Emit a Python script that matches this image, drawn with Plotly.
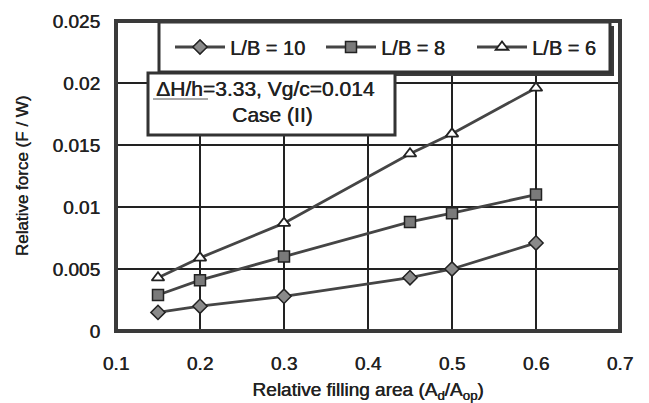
import plotly.graph_objects as go

# Relative filling area (A_d / A_op)
filling_area = [0.15, 0.2, 0.3, 0.45, 0.5, 0.6]

# Relative force F/W for each length/breadth ratio
force_lb10 = [0.0015, 0.0020, 0.0028, 0.0043, 0.0050, 0.0071]
force_lb8 = [0.0029, 0.0041, 0.0060, 0.0088, 0.0095, 0.0110]
force_lb6 = [0.0043, 0.0059, 0.0087, 0.0143, 0.0159, 0.0196]

series_names = ["L/B = 10", "L/B = 8", "L/B = 6"]

x_ticks = [0.1, 0.2, 0.3, 0.4, 0.5, 0.6, 0.7]
x_tick_text = ["0.1", "0.2", "0.3", "0.4", "0.5", "0.6", "0.7"]
y_ticks = [0, 0.005, 0.01, 0.015, 0.02, 0.025]
y_tick_text = ["0", "0.005", "0.01", "0.015", "0.02", "0.025"]

W, H = 649, 403
ML, MR, MT, MB = 116, 29, 21, 72
PW, PH = W - ML - MR, H - MT - MB

INK = "#222222"
LINE = "#454545"
FONT = "Liberation Sans, Arial, sans-serif"
HEAVY = "0.5px 0 0 #222222"  # slightly heavier strokes for printed-looking text


def px(x):
    return (x - ML) / PW


def py(y):
    return (H - MB - y) / PH


def font(size):
    return dict(family=FONT, size=size, color=INK, shadow=HEAVY)


fig = go.Figure()

fig.add_trace(go.Scatter(
    x=filling_area, y=force_lb10, name=series_names[0], mode="lines+markers",
    line=dict(color=LINE, width=2.8),
    marker=dict(symbol="diamond", size=11, color="#8a8a8a", line=dict(color=INK, width=1.5)),
))
fig.add_trace(go.Scatter(
    x=filling_area, y=force_lb8, name=series_names[1], mode="lines+markers",
    line=dict(color=LINE, width=2.8),
    marker=dict(symbol="square", size=11, color="#7a7a7a", line=dict(color=INK, width=1.5)),
))
fig.add_trace(go.Scatter(
    x=filling_area, y=force_lb6, name=series_names[2], mode="lines+markers",
    line=dict(color=LINE, width=2.8),
    marker=dict(symbol="triangle-up", size=11, color="white", line=dict(color=INK, width=1.8)),
))

shapes = []
# legend box with drop shadow
shapes.append(dict(type="rect", xref="paper", yref="paper",
                   x0=px(163), x1=px(614), y0=py(76), y1=py(26),
                   fillcolor="#3a3a3a", line=dict(width=0), layer="above"))
shapes.append(dict(type="rect", xref="paper", yref="paper",
                   x0=px(159), x1=px(610), y0=py(72), y1=py(22),
                   fillcolor="white", line=dict(color="#333333", width=3), layer="above"))
# condition box
shapes.append(dict(type="rect", xref="paper", yref="paper",
                   x0=px(148), x1=px(395), y0=py(135), y1=py(73),
                   fillcolor="white", line=dict(color="#333333", width=3), layer="above"))
shapes.append(dict(type="line", xref="paper", yref="paper",
                   x0=px(153), x1=px(208), y0=py(99), y1=py(99),
                   line=dict(color="#555555", width=1), layer="above"))
# heavy plot frame
shapes.append(dict(type="rect", xref="paper", yref="paper",
                   x0=0, x1=1, y0=0, y1=1,
                   line=dict(color="#3a3a3a", width=4), layer="above"))

fig.update_layout(
    width=W, height=H,
    margin=dict(l=ML, r=MR, t=MT, b=MB, autoexpand=False),
    paper_bgcolor="white", plot_bgcolor="white",
    font=font(19),
    showlegend=True,
    legend=dict(
        orientation="h", x=px(170), y=py(47), xanchor="left", yanchor="middle",
        bgcolor="rgba(0,0,0,0)", borderwidth=0,
        font=font(20),
        entrywidth=86, entrywidthmode="pixels", itemwidth=50,
    ),
    shapes=shapes,
    annotations=[
        dict(xref="paper", yref="paper", x=px(265), y=py(88),
             text="ΔH/h=3.33, Vg/c=0.014", showarrow=False,
             font=font(21), xanchor="center", yanchor="middle"),
        dict(xref="paper", yref="paper", x=px(272), y=py(114),
             text="Case (II)", showarrow=False,
             font=font(21), xanchor="center", yanchor="middle"),
    ],
)

fig.update_xaxes(
    range=[0.1, 0.7], tickvals=x_ticks, ticktext=x_tick_text,
    showgrid=True, gridcolor=INK, gridwidth=1.5, zeroline=False,
    ticks="", ticklabelstandoff=19, showline=False, automargin=False,
    tickfont=font(19),
    title=dict(text="Relative filling area (A<sub>d</sub>/A<sub>op</sub>)",
               font=font(19), standoff=11),
)
fig.update_yaxes(
    range=[0, 0.025], tickvals=y_ticks, ticktext=y_tick_text,
    showgrid=True, gridcolor=INK, gridwidth=1.5, zeroline=False,
    ticks="", ticklabelstandoff=15, showline=False, automargin=False,
    tickfont=font(19),
    title=dict(text="Relative force (F / W)",
               font=font(17), standoff=19),
)

fig.write_html("out.html")
